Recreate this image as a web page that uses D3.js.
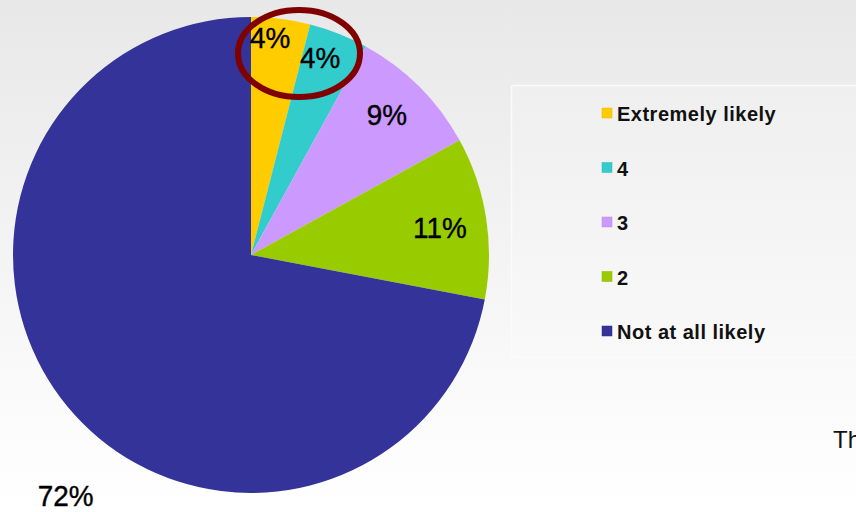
<!DOCTYPE html>
<html><head><meta charset="utf-8">
<script src="https://cdn.jsdelivr.net/npm/d3@7"></script>
<style>html,body{margin:0;padding:0;overflow:hidden;background:#fff}svg{display:block}</style>
</head><body>
<svg id="c" width="856" height="512"></svg>
<script>
const categories = ["Extremely likely", "4", "3", "2", "Not at all likely"];
const values = [4, 4, 9, 11, 72];
const labels = ["4%", "4%", "9%", "11%", "72%"];
const colors = ["#ffcc00", "#33cccc", "#cc99ff", "#99cc00", "#333399"];

const svg = d3.select("#c");
const W = 856, H = 512;
const defs = svg.append("defs");
const bg = defs.append("linearGradient").attr("id","bg").attr("x1",0).attr("y1",0).attr("x2",0).attr("y2",1);
bg.append("stop").attr("offset","0").attr("stop-color","#e8e8e8");
bg.append("stop").attr("offset","0.85").attr("stop-color","#fcfcfc");
bg.append("stop").attr("offset","1").attr("stop-color","#ffffff");
svg.append("rect").attr("width",W).attr("height",H).attr("fill","url(#bg)");

// clipped slide text at right edge
svg.append("text").attr("x",846).attr("y",215).attr("font-family","Liberation Sans, Arial, sans-serif")
  .attr("font-size",24).attr("fill","#111").text("T");
svg.append("text").attr("x",833).attr("y",448).attr("font-family","Liberation Sans, Arial, sans-serif")
  .attr("font-size",24).attr("fill","#111").text("Th");

// legend box
const lg = defs.append("linearGradient").attr("id","lg").attr("x1",0).attr("y1",0).attr("x2",0).attr("y2",1);
lg.append("stop").attr("offset","0").attr("stop-color","#efefef");
lg.append("stop").attr("offset","1").attr("stop-color","#f9f9f9");
svg.append("rect").attr("x",511.5).attr("y",85.5).attr("width",380).attr("height",272).attr("rx",2)
  .attr("fill","url(#lg)").attr("stroke","#fbfbfb").attr("stroke-width",1.5);

const cx = 251, cy = 255, R = 238;
const pie = d3.pie().sort(null).value(d => d)(values);
const arc = d3.arc().innerRadius(0).outerRadius(R);
const g = svg.append("g").attr("transform",`translate(${cx},${cy})`);
g.selectAll("path").data(pie).join("path").attr("d",arc).attr("fill",(d,i)=>colors[i]);

// label placement (layout constants)
const labR = [219, 210, 196, 191, 303];
const labA = [5, 19.2, 43.9, 81.4, 217.7];
const sc = d3.scaleLinear().domain([0,360]).range([0, 2*Math.PI]);
g.selectAll("text.lab").data(pie).join("text").attr("class","lab")
  .attr("transform",(d,i)=>{
    const a = sc(labA[i]);
    const x = labR[i]*Math.sin(a), y = -labR[i]*Math.cos(a) + 11.5;
    return `translate(${x},${y}) scale(0.93,1)`;
  })
  .attr("text-anchor","middle").attr("font-family","Liberation Sans, Arial, sans-serif")
  .attr("font-size",30).attr("fill","#000").attr("stroke","#000").attr("stroke-width",0.4)
  .text((d,i)=>labels[i]);

// highlight ellipse
svg.append("ellipse").attr("cx",299).attr("cy",53.5).attr("rx",61).attr("ry",43.5)
  .attr("fill","none").attr("stroke","#800000").attr("stroke-width",6);

// legend
const ly = d3.scalePoint().domain(categories).range([121, 339]);
const leg = svg.append("g");
categories.forEach((c,i)=>{
  leg.append("rect").attr("x",602).attr("y",ly(c)-13).attr("width",10).attr("height",10)
    .attr("fill",colors[i]).attr("stroke",d3.color(colors[i]).darker(0.3)).attr("stroke-width",0.5);
  leg.append("text").attr("x",617).attr("y",ly(c)).attr("font-family","Liberation Sans, Arial, sans-serif")
    .attr("font-size",20).attr("font-weight","bold").attr("letter-spacing",0.5).attr("fill","#111").text(c);
});
</script>
</body></html>
